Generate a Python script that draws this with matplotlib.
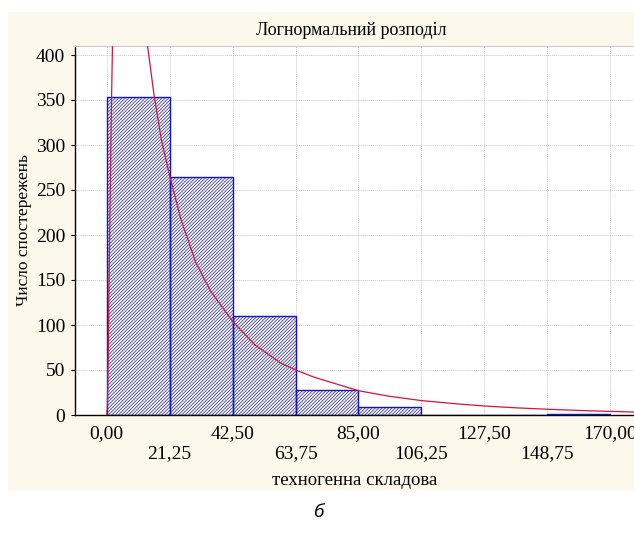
import matplotlib
matplotlib.use("Agg")
from matplotlib import pyplot as plt
import numpy as np

# histogram bins (left edges) and counts
bin_left = [0.0, 21.25, 42.5, 63.75, 85.0, 106.25, 127.5, 148.75]
bin_width = 21.25
counts = [353, 265, 110, 28, 9, 0, 0, 1.5]

# fitted lognormal curve
curve_x = [0.0, 0.2, 0.3, 0.5, 0.75, 1.0, 1.3, 1.6, 1.93, 2.2, 3.0, 5.0, 8.0, 11.0,
           13.8, 16.0, 18.5, 21.25, 25.0, 30.0, 35.0, 42.5, 50.0, 58.6, 63.75, 70.0,
           85.0, 95.0, 106.25, 117.0, 127.5, 138.0, 148.75, 160.0, 170.0, 178.0]
curve_y = [0, 8, 21, 64, 135, 198, 276, 344, 407, 450, 530, 600, 570, 485,
           410, 355, 305, 266, 218, 170, 138, 104, 78, 58, 50, 42,
           27, 21, 16, 12.7, 10, 8, 6.4, 5, 4, 3.3]

xticks = [0.0, 21.25, 42.5, 63.75, 85.0, 106.25, 127.5, 148.75, 170.0]
xtick_labels = ["0,00", "21,25", "42,50", "63,75", "85,00", "106,25", "127,50", "148,75", "170,00"]
yticks = [0, 50, 100, 150, 200, 250, 300, 350, 400]

plt.rcParams["hatch.linewidth"] = 0.6
serif = ["Liberation Serif", "DejaVu Serif"]

fig = plt.figure(figsize=(6.34, 5.33), dpi=100)
fig.patch.set_facecolor("white")
# cream panel behind the chart
bg = plt.Rectangle((8 / 634, 1 - 490 / 533), 626 / 634, 478 / 533,
                   transform=fig.transFigure, facecolor="#fcf8ec", edgecolor="none", zorder=-10)
fig.patches.append(bg)

ax = fig.add_axes([75 / 634, 1 - 415 / 533, 559 / 634, 369 / 533])
ax.set_zorder(1)
ax.set_facecolor("white")

ax.bar(bin_left, counts, width=bin_width, align="edge", color="white",
       edgecolor="#3c3c94", hatch="//////////", linewidth=0, zorder=2)
ax.bar(bin_left, counts, width=bin_width, align="edge", fill=False,
       edgecolor="#1010d0", linewidth=1.0, zorder=3)
ax.plot(curve_x, curve_y, color="#d4143c", linewidth=0.9, zorder=4)

ax.set_xlim(-10.7, 178.0)
ax.set_ylim(0, 410)
ax.set_yticks(yticks)
ax.set_xticks(xticks)
labels = [lab if i % 2 == 0 else "\n" + lab for i, lab in enumerate(xtick_labels)]
ax.set_xticklabels(labels, fontfamily=serif, fontsize=14, linespacing=1.25)
for t in ax.get_yticklabels():
    t.set_fontfamily(serif)
    t.set_fontsize(14)
ax.tick_params(axis="x", length=0, pad=7)
ax.tick_params(axis="y", length=3, pad=4)

ax.grid(True, color="#c8c8c8", linestyle=(0, (1, 1)), linewidth=0.7, zorder=1)
ax.set_axisbelow(True)
ax.spines["right"].set_visible(False)
ax.spines["top"].set_color("#c8c8c8")
ax.spines["top"].set_linestyle((0, (1, 1)))
ax.spines["top"].set_linewidth(0.7)
ax.spines["left"].set_linewidth(1.0)
ax.spines["bottom"].set_linewidth(1.0)

ax.set_title("Логнормальний розподіл", fontfamily=serif, fontsize=13, pad=8, x=0.495)
ax.set_xlabel("техногенна складова", fontfamily=serif, fontsize=13.5, labelpad=7)
ax.set_ylabel("Число спостережень", fontfamily=serif, fontsize=12.5, labelpad=3)

fig.text(318 / 634, 1 - 512 / 533, "б", fontfamily=["Open Sans", "DejaVu Sans"],
         style="italic", fontsize=14, ha="center", va="center")

fig.savefig("out.png", dpi=100)
